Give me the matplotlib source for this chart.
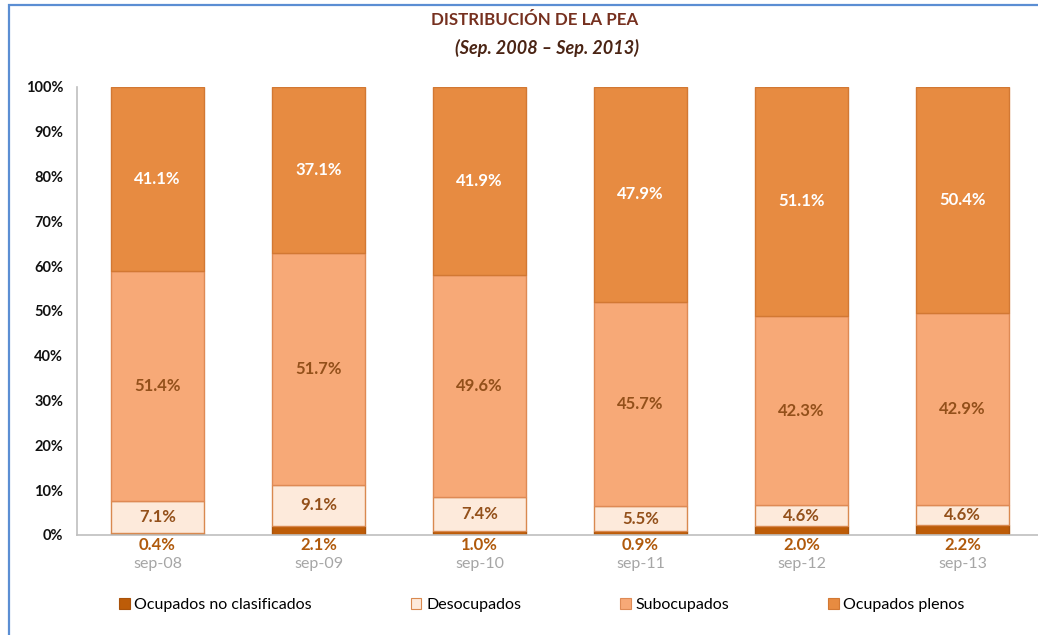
import matplotlib.pyplot as plt
import numpy as np
from matplotlib.patches import Patch, Rectangle

plt.rcParams['font.family'] = ['Lato', 'DejaVu Sans']

# data (percent of PEA)
periodos = ["sep-08", "sep-09", "sep-10", "sep-11", "sep-12", "sep-13"]
no_clasificados = [0.4, 2.1, 1.0, 0.9, 2.0, 2.2]
desocupados = [7.1, 9.1, 7.4, 5.5, 4.6, 4.6]
subocupados = [51.4, 51.7, 49.6, 45.7, 42.3, 42.9]
plenos = [41.1, 37.1, 41.9, 47.9, 51.1, 50.4]

series = [
    ("Ocupados no clasificados", no_clasificados, "#BD5C08", "#A9520A"),
    ("Desocupados", desocupados, "#FDEADB", "#D9894F"),
    ("Subocupados", subocupados, "#F7A977", "#DE8A55"),
    ("Ocupados plenos", plenos, "#E78B41", "#D27833"),
]
label_colors = ["#B05A0C", "#93501A", "#93501A", "white"]

W, H = 1038, 635
fig = plt.figure(figsize=(W / 100, H / 100), dpi=100)
ax = fig.add_axes([77 / W, 1 - 535 / H, (1043 - 77) / W, (535 - 87) / H])

x = np.arange(len(periodos))
totals = np.sum([s[1] for s in series], axis=0)
bottom = np.zeros(len(periodos))
width = 0.578

for i, (name, vals, fc, ec) in enumerate(series):
    share = np.array(vals) / totals * 100
    ax.bar(x, share, width, bottom=bottom, color=fc, edgecolor=ec, linewidth=1.0, zorder=2)
    for xi, b, h, v in zip(x, bottom, share, vals):
        txt = f"{v:.1f}%"
        if i == 0:
            ax.annotate(txt, (xi, 0), xytext=(0, -10), textcoords="offset pixels",
                        ha="center", va="center", fontsize=12, fontweight="bold",
                        color=label_colors[i], annotation_clip=False)
        else:
            ax.text(xi, b + h / 2, txt, ha="center", va="center", fontsize=12,
                    fontweight="bold", color=label_colors[i])
    bottom = bottom + share

ax.set_xlim(-0.5, len(periodos) - 0.5)
ax.set_ylim(0, 100)
ax.set_yticks(range(0, 101, 10))
ax.set_yticklabels([f"{t}%" for t in range(0, 101, 10)])
ax.set_xticks(x)
ax.set_xticklabels(periodos)
ax.tick_params(axis="y", length=0, pad=10, labelsize=10.5, labelcolor="#111111")
ax.tick_params(axis="x", length=0, pad=16, labelsize=11.5, labelcolor="#A6A6A6")
for lab in ax.get_yticklabels():
    lab.set_fontweight("bold")
for side in ["top", "right"]:
    ax.spines[side].set_visible(False)
for side in ["left", "bottom"]:
    ax.spines[side].set_color("#BFBFBF")
    ax.spines[side].set_linewidth(1.2)

fig.text(535 / W, 1 - 20 / H, "DISTRIBUCIÓN DE LA PEA", ha="center", va="center",
         fontsize=12.2, fontweight="bold", color="#76301F")
fig.text(547 / W, 1 - 48 / H, "(Sep. 2008 – Sep. 2013)", ha="center", va="center",
         fontsize=13, fontweight="bold", fontstyle="italic", color="#4A2414")

handles = [Patch(facecolor=fc, edgecolor=ec, linewidth=0.8) for _, _, fc, ec in series]
fig.legend(handles, [s[0] for s in series], loc="center", ncol=4,
           bbox_to_anchor=(542 / W, 1 - 605 / H), frameon=False, fontsize=11.5,
           handlelength=0.65, handleheight=0.65, handletextpad=0.3, columnspacing=6.2)

# outer chart border (runs off the right and bottom edge in the original)
fig.patches.append(Rectangle((9 / W, -0.05), 1.1, 1 - 5 / H + 0.05, transform=fig.transFigure,
                             fill=False, edgecolor="#5B8ED3", linewidth=1.6, clip_on=False))

fig.savefig("out.png", dpi=100)
